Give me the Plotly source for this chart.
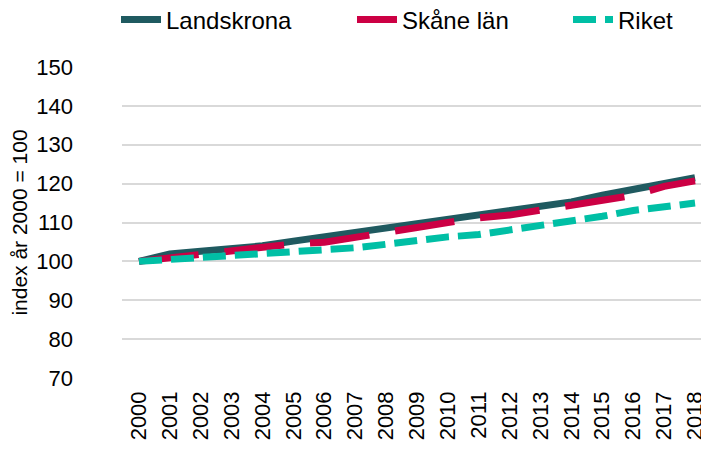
import plotly.graph_objects as go

years = [str(y) for y in range(2000, 2019)]
landskrona = [100, 101.9, 102.6, 103.2, 104.0, 105.2, 106.3, 107.6, 108.7, 109.7,
              110.8, 112.1, 113.1, 114.0, 115.3, 117.0, 118.5, 120.0, 121.5]
skane = [100, 100.9, 101.5, 102.3, 103.2, 104.5, 104.9, 106.3, 107.6, 108.7,
         110.0, 111.2, 111.9, 113.1, 114.4, 115.5, 117.0, 119.3, 120.7]
riket = [100, 100.5, 100.9, 101.3, 101.7, 102.3, 102.6, 103.5, 104.4, 105.4,
         106.3, 106.9, 108.0, 109.0, 110.2, 111.6, 113.1, 114.0, 115.0]

y_ticks = [70, 80, 90, 100, 110, 120, 130, 140, 150]

FONT = "Liberation Sans, Arial, sans-serif"
W, H = 701, 442  # page body has an 8px margin

fig = go.Figure()
fig.add_trace(go.Scatter(x=years, y=landskrona, name="Landskrona", mode="lines",
                         line=dict(color="#1F5A60", width=7), legend="legend"))
fig.add_trace(go.Scatter(x=years, y=skane, name="Skåne län", mode="lines",
                         line=dict(color="#CC0044", width=7, dash="60px,26px"),
                         legend="legend2"))
fig.add_trace(go.Scatter(x=years, y=riket, name="Riket", mode="lines",
                         line=dict(color="#00BFA5", width=7, dash="23px,9px"),
                         legend="legend3"))


def leg(text_start_page_x):
    return dict(orientation="h", x=(text_start_page_x - 8 - 50) / W, xanchor="left",
                xref="container", y=1 - 12 / H, yanchor="middle", yref="container",
                font=dict(size=24, family=FONT), itemwidth=40,
                bgcolor="rgba(0,0,0,0)")


fig.update_layout(
    width=W, height=H,
    margin=dict(l=114, r=1, t=59, b=72),
    paper_bgcolor="white", plot_bgcolor="white",
    font=dict(family=FONT, size=22, color="#000000"),
    showlegend=True,
    legend=leg(166), legend2=leg(402), legend3=leg(618),
    xaxis=dict(type="category", range=[-0.55, 18.42], tickangle=-90,
               showgrid=False, showline=False, zeroline=False, automargin=False,
               tickfont=dict(size=22), ticks="", ticklabelstandoff=8),
    yaxis=dict(range=[70, 150], tickvals=y_ticks, showgrid=True,
               gridcolor="#D9D9D9", gridwidth=2, zeroline=False, automargin=False,
               showline=False, ticks="", tickfont=dict(size=22),
               ticklabelstandoff=48,
               title=dict(text="index år 2000 = 100", font=dict(size=21), standoff=3)),
)

fig.write_html("out.html")
